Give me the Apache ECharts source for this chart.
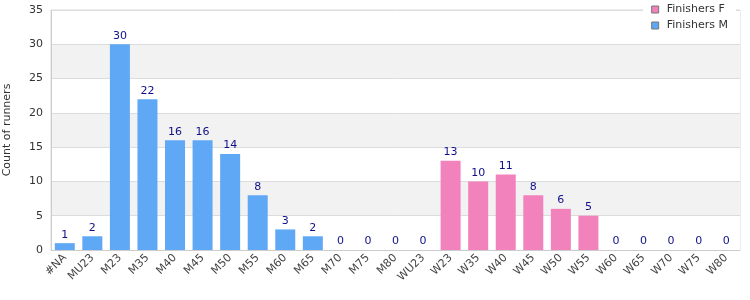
<!DOCTYPE html>
<html>
<head>
<meta charset="utf-8">
<script src="https://cdn.jsdelivr.net/npm/echarts@6/dist/echarts.min.js"></script>
<style>
  html, body { margin: 0; padding: 0; background: #fff; }
  #chart { width: 750px; height: 300px; }
</style>
</head>
<body>
<div id="chart"></div>
<script>
// Age categories on the x axis
var categories = ['#NA', 'MU23', 'M23', 'M35', 'M40', 'M45', 'M50', 'M55', 'M60', 'M65', 'M70', 'M75', 'M80',
    'WU23', 'W23', 'W35', 'W40', 'W45', 'W50', 'W55', 'W60', 'W65', 'W70', 'W75', 'W80'];

// Finisher counts (null = category belongs to the other series)
var finishersM = [1, 2, 30, 22, 16, 16, 14, 8, 3, 2, 0, 0, 0,
    null, null, null, null, null, null, null, null, null, null, null, null];
var finishersF = [null, null, null, null, null, null, null, null, null, null, null, null, null,
    0, 13, 10, 11, 8, 6, 5, 0, 0, 0, 0, 0];

var chart = echarts.init(document.getElementById('chart'));
var fontFamily = 'DejaVu Sans';

var labelStyle = {
    show: true,
    position: 'top',
    color: '#10108a',
    fontSize: 11,
    fontFamily: fontFamily,
    distance: 3
};

chart.setOption({
    animation: false,
    grid: {
        left: 51,
        right: 10,
        top: 10,
        bottom: 50,
        outerBoundsMode: 'none',
        containLabel: false,
        show: true,
        borderColor: '#dcdcdc',
        borderWidth: 1
    },
    legend: {
        data: ['Finishers F', 'Finishers M'],
        orient: 'vertical',
        right: 14,
        top: 0,
        itemWidth: 7,
        itemHeight: 7,
        itemGap: 5,
        padding: [4, 8, 6, 8],
        backgroundColor: '#fff',
        icon: 'rect',
        itemStyle: { borderColor: '#777', borderWidth: 1 },
        textStyle: { fontSize: 11, fontFamily: fontFamily, color: '#333', padding: [0, 0, 0, 3] }
    },
    xAxis: {
        type: 'category',
        data: categories,
        axisTick: { show: false },
        axisLine: { lineStyle: { color: '#ccc' } },
        axisLabel: {
            rotate: 45,
            interval: 0,
            fontSize: 11,
            fontFamily: fontFamily,
            color: '#444',
            margin: 6
        }
    },
    yAxis: {
        type: 'value',
        min: 0,
        max: 35,
        interval: 5,
        name: 'Count of runners',
        nameLocation: 'middle',
        nameGap: 38,
        nameTextStyle: { fontSize: 11, fontFamily: fontFamily, color: '#333' },
        axisLine: { show: true, lineStyle: { color: '#ccc' } },
        axisTick: { show: false },
        axisLabel: { fontSize: 11, fontFamily: fontFamily, color: '#333', margin: 8 },
        splitLine: { lineStyle: { color: '#dcdcdc' } },
        splitArea: { show: true, areaStyle: { color: ['#ffffff', '#f2f2f2'] } }
    },
    series: [
        {
            name: 'Finishers F',
            type: 'bar',
            data: finishersF,
            barWidth: 20,
            barGap: '-100%',
            itemStyle: { color: '#f282bb' },
            label: labelStyle
        },
        {
            name: 'Finishers M',
            type: 'bar',
            data: finishersM,
            barWidth: 20,
            barGap: '-100%',
            itemStyle: { color: '#5fa8f5' },
            label: labelStyle
        }
    ]
});
</script>
</body>
</html>
